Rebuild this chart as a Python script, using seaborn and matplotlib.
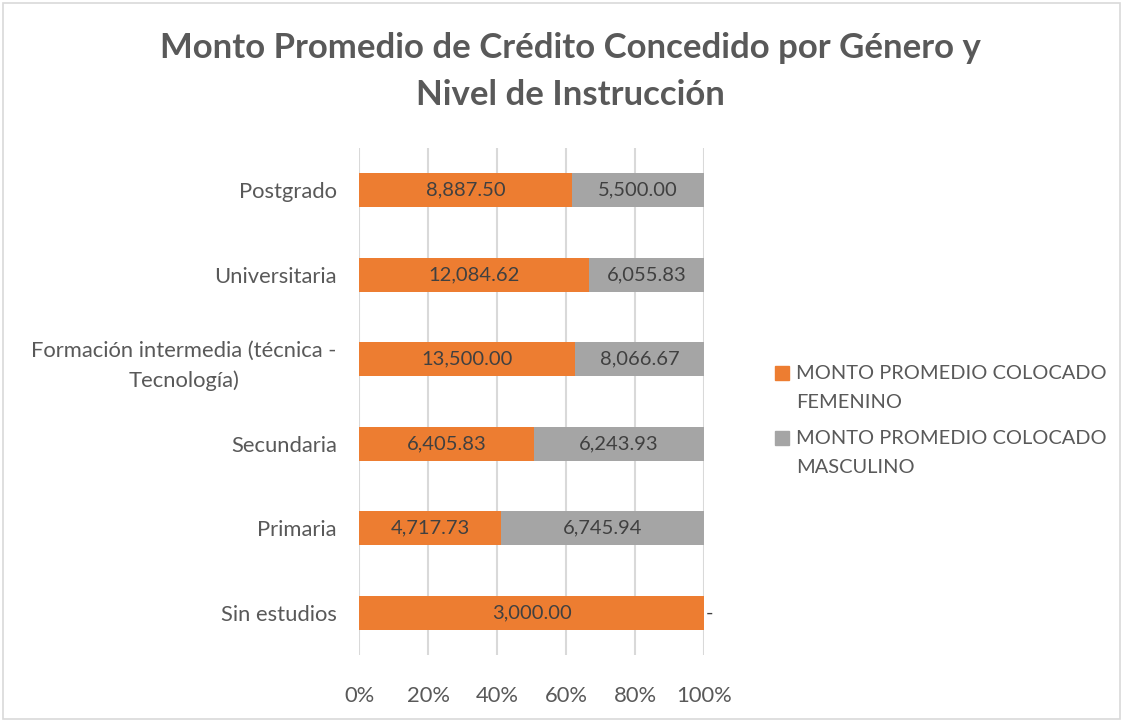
import numpy as np
import pandas as pd
import seaborn as sns
import matplotlib.pyplot as plt
from matplotlib.patches import Patch
from matplotlib.ticker import PercentFormatter

niveles = ["Postgrado", "Universitaria", "Formación intermedia (técnica -\nTecnología)",
           "Secundaria", "Primaria", "Sin estudios"]
femenino = [8887.50, 12084.62, 13500.00, 6405.83, 4717.73, 3000.00]
masculino = [5500.00, 6055.83, 8066.67, 6243.93, 6745.94, 0.0]

naranja = "#ED7D31"
gris = "#A5A5A5"

df = pd.DataFrame({"nivel": niveles, "fem": femenino, "masc": masculino})
df["total"] = df["fem"] + df["masc"]
df["pct_fem"] = df["fem"] / df["total"] * 100
df["pct_tot"] = 100.0

sns.set_style("white")
plt.rcParams["font.family"] = ["Lato", "DejaVu Sans"]

fig = plt.figure(figsize=(11.23, 7.21), dpi=100)
ax = fig.add_axes([0.3197, 0.0915, 0.3072, 0.7032])

sns.barplot(data=df, y="nivel", x="pct_tot", color=gris, width=0.4, ax=ax,
            saturation=1, linewidth=0)
sns.barplot(data=df, y="nivel", x="pct_fem", color=naranja, width=0.4, ax=ax,
            saturation=1, linewidth=0)

txt = "#404040"
for i, row in df.iterrows():
    ax.text(row["pct_fem"] / 2, i, f"{row['fem']:,.2f}", ha="center", va="center",
            fontsize=14.5, color=txt)
    if row["masc"] > 0:
        ax.text(row["pct_fem"] + (100 - row["pct_fem"]) / 2, i, f"{row['masc']:,.2f}",
                ha="center", va="center", fontsize=14.5, color=txt)
    else:
        ax.text(100.6, i, "-", ha="left", va="center", fontsize=14.5, color=txt)

ax.set_xlim(0, 100)
ax.set_ylim(5.5, -0.5)
ax.set_xticks(np.arange(0, 101, 20))
ax.xaxis.set_major_formatter(PercentFormatter(decimals=0))
ax.grid(axis="x", color="#D9D9D9", linewidth=1.5)
ax.set_axisbelow(True)
for s in ax.spines.values():
    s.set_visible(False)
ax.set_xlabel("")
ax.set_ylabel("")
ax.tick_params(axis="both", length=0, labelsize=15.8, labelcolor="#595959")
ax.tick_params(axis="x", pad=22)
ax.tick_params(axis="y", pad=16)
for lbl in ax.get_yticklabels():
    lbl.set_multialignment("center")
    lbl.set_linespacing(1.55)

fig.suptitle("Monto Promedio de Crédito Concedido por Género y\nNivel de Instrucción",
             x=0.508, y=0.955, fontsize=25, fontweight="bold", color="#595959",
             linespacing=1.55)

handles = [Patch(color=naranja), Patch(color=gris)]
leg = fig.legend(handles, ["MONTO PROMEDIO COLOCADO\nFEMENINO",
                           "MONTO PROMEDIO COLOCADO\nMASCULINO"],
                 loc="center left", bbox_to_anchor=(0.674, 0.417), frameon=False,
                 fontsize=14.4, labelcolor="#595959", handlelength=0.7, handleheight=0.7,
                 handletextpad=0.35, labelspacing=0.95)
for t in leg.get_texts():
    t.set_linespacing(1.85)
for h in leg.legend_handles:
    h.set_y(h.get_y() + 11)

fig.patches.append(plt.Rectangle((0.003, 0.003), 0.994, 0.993, transform=fig.transFigure,
                                 fill=False, edgecolor="#D9D9D9", linewidth=1.2))

fig.savefig("out.png", dpi=100)
